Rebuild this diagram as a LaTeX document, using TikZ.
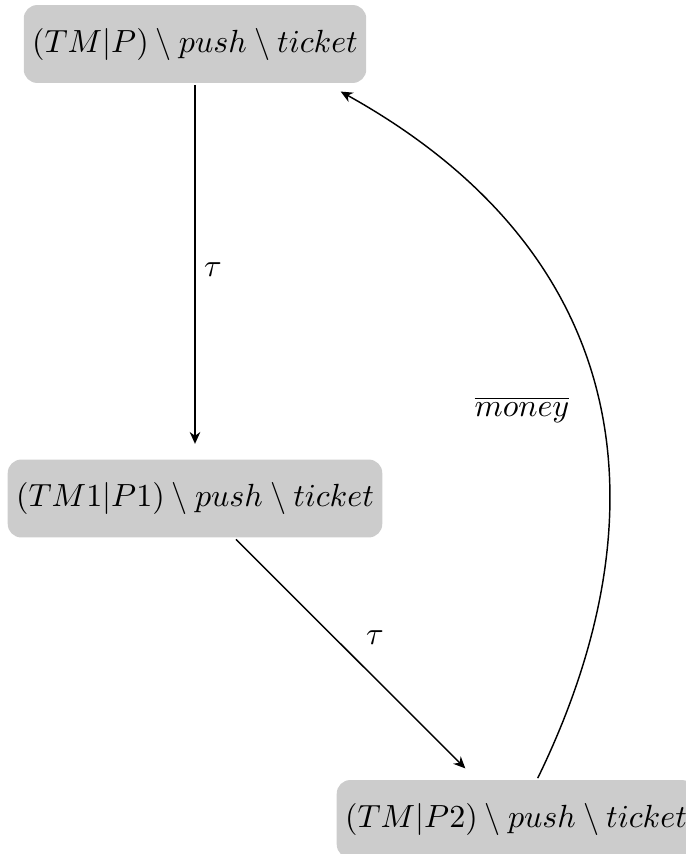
\documentclass[tikz,border=0pt]{standalone}
\usetikzlibrary{arrows.meta}
\begin{document}
\begin{tikzpicture}[x=0.312pt,y=-0.312pt,
  state/.style={fill=black!20, rounded corners=4.2pt, inner xsep=2.6pt, minimum height=24.3pt, outer sep=0.6pt},
  conn/.style={-{Stealth[length=3.7pt,width=3.3pt,inset=1.2pt]}, shorten >=4.3pt, line width=0.45pt}]
\useasboundingbox (0,0) rectangle (685,854);
\node[state] (n1) at (195,44) {$(TM|P) \setminus push \setminus ticket$};
\node[state] (n2) at (195,498.5) {$(TM1|P1) \setminus push \setminus ticket$};
\node[state] (n3) at (516,819) {$(TM|P2) \setminus push \setminus ticket$};
\draw[conn] (n1) -- (n2);
\draw[conn] (n2) -- (n3);
\draw[conn] (n3.62) .. controls (663.5,520) and (640,258) .. (n1.-17.3);
\node (l1) at (213,270) {$\tau$};
\node (l2) at (375,638) {$\tau$};
\node (l3) at (522,410) {$\overline{money}$};
\end{tikzpicture}
\end{document}
